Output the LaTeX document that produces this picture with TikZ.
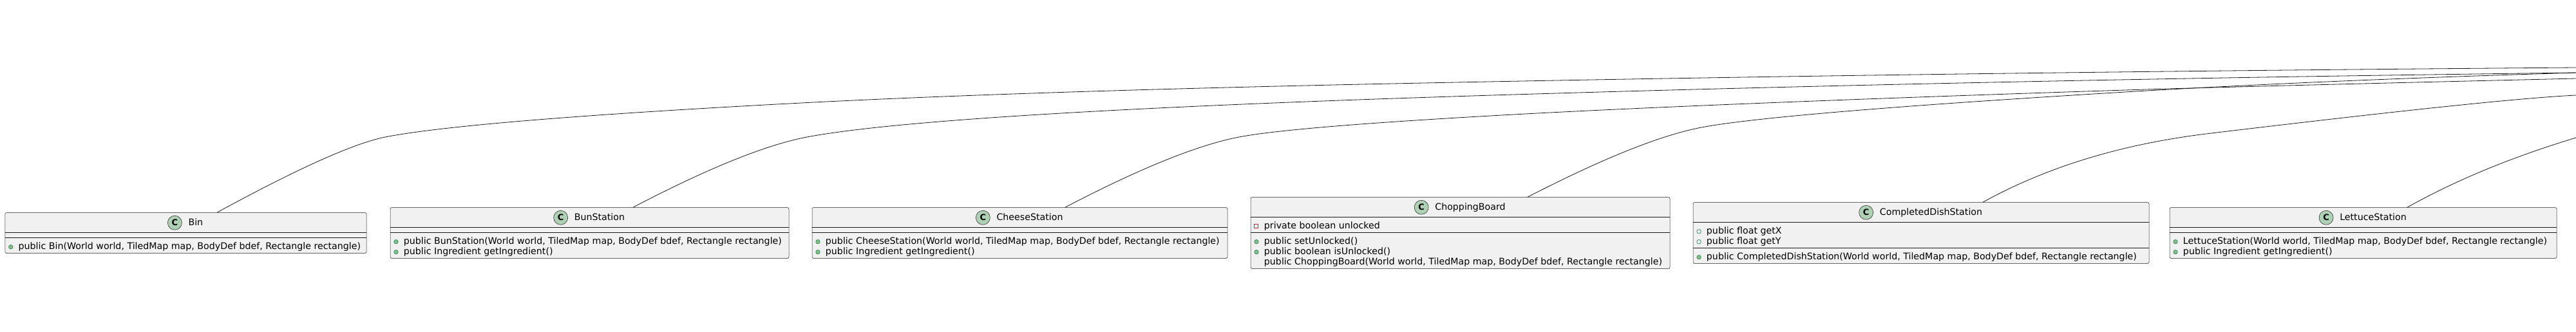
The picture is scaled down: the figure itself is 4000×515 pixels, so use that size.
\documentclass[tikz,border=0pt]{standalone}
\usepackage{fontspec}
\setmainfont{DejaVu Sans}
\usetikzlibrary{positioning}
\definecolor{boxfill}{HTML}{F1F1F1}
\definecolor{boxline}{HTML}{181818}
\definecolor{iconfill}{HTML}{ADD1B2}
\definecolor{pubfill}{HTML}{84BE84}
\definecolor{publine}{HTML}{038048}
\definecolor{privline}{HTML}{C82930}

\begin{document}
\begin{tikzpicture}[x=1pt,y=-1pt,
  classbox/.style={draw=boxline, fill=boxfill, line width=0.5pt, rounded corners=2.5pt, inner sep=0},
  sepline/.style={draw=boxline, line width=0.5pt},
  cname/.style={inner sep=0, font=\fontsize{14.2}{16}\selectfont, text height=10.5pt, text depth=3pt},
  cicon/.style={circle, draw=boxline, fill=iconfill, line width=0.5pt, minimum size=22pt, inner sep=0, outer sep=0, font=\fontsize{13}{13}\selectfont\bfseries},
  member/.style={inner sep=0, anchor=west, font=\fontsize{14.2}{16}\selectfont, text height=10.5pt, text depth=3pt},
  pubmeth/.style={circle, draw=publine, fill=pubfill, line width=0.5pt, minimum size=6.5pt, inner sep=0, outer sep=0},
  pubfield/.style={circle, draw=publine, line width=0.6pt, minimum size=6.5pt, inner sep=0, outer sep=0},
  privfield/.style={rectangle, draw=privline, line width=0.6pt, minimum size=6pt, inner sep=0, outer sep=0},
  inherit/.style={draw=boxline, line width=0.8pt}]

\useasboundingbox (0,0) rectangle (4000,515);

% Classes
\node[classbox, minimum width=561.3pt, minimum height=63pt] (bin) at (288.4,362) {};
\node[classbox, minimum width=619pt, minimum height=79pt] (bun) at (915.5,362) {};
\node[classbox, minimum width=645pt, minimum height=79pt] (cheese) at (1583.5,362) {};
\node[classbox, minimum width=651pt, minimum height=111pt] (chop) at (2267.5,362) {};
\node[classbox, minimum width=708pt, minimum height=95pt] (dish) at (2983,362) {};
\node[classbox, minimum width=601pt, minimum height=79pt] (lettuce) at (3669.5,362) {};

% Compartments
\foreach \c/\s in {bin/39, bun/39, cheese/39, chop/55, dish/71, lettuce/39} {
  \draw[sepline] ([yshift=-31pt]\c.north west) -- ([yshift=-31pt]\c.north east);
  \draw[sepline] ([yshift=-\s pt]\c.north west) -- ([yshift=-\s pt]\c.north east);
}

% Headers
\node[cname] (binN) at ([xshift=15.5pt,yshift=-16pt]bin.north) {Bin};
\node[cicon, left=10pt of binN] {C};
\node[cname] (bunN) at ([xshift=15.5pt,yshift=-16pt]bun.north) {BunStation};
\node[cicon, left=10pt of bunN] {C};
\node[cname] (cheeseN) at ([xshift=15.5pt,yshift=-16pt]cheese.north) {CheeseStation};
\node[cicon, left=10pt of cheeseN] {C};
\node[cname] (chopN) at ([xshift=15.5pt,yshift=-16pt]chop.north) {ChoppingBoard};
\node[cicon, left=10pt of chopN] {C};
\node[cname] (dishN) at ([xshift=15.5pt,yshift=-16pt]dish.north) {CompletedDishStation};
\node[cicon, left=10pt of dishN] {C};
\node[cname] (lettuceN) at ([xshift=15.5pt,yshift=-16pt]lettuce.north) {LettuceStation};
\node[cicon, left=10pt of lettuceN] {C};

% Members
\node[member] (binM1) at ([xshift=21pt,yshift=-53.5pt]bin.north west) {public Bin(World world, TiledMap map, BodyDef bdef, Rectangle rectangle)};
\node[pubmeth, left=8.5pt of binM1] {};

\node[member] (bunM1) at ([xshift=21pt,yshift=-53.5pt]bun.north west) {public BunStation(World world, TiledMap map, BodyDef bdef, Rectangle rectangle)};
\node[member] (bunM2) at ([xshift=21pt,yshift=-69.5pt]bun.north west) {public Ingredient getIngredient()};
\node[pubmeth, left=8.5pt of bunM1] {};
\node[pubmeth, left=8.5pt of bunM2] {};

\node[member] (cheeseM1) at ([xshift=21pt,yshift=-53.5pt]cheese.north west) {public CheeseStation(World world, TiledMap map, BodyDef bdef, Rectangle rectangle)};
\node[member] (cheeseM2) at ([xshift=21pt,yshift=-69.5pt]cheese.north west) {public Ingredient getIngredient()};
\node[pubmeth, left=8.5pt of cheeseM1] {};
\node[pubmeth, left=8.5pt of cheeseM2] {};

\node[member] (chopA1) at ([xshift=21pt,yshift=-45.5pt]chop.north west) {private boolean unlocked};
\node[member] (chopM1) at ([xshift=21pt,yshift=-69.5pt]chop.north west) {public setUnlocked()};
\node[member] (chopM2) at ([xshift=21pt,yshift=-85.5pt]chop.north west) {public boolean isUnlocked()};
\node[member] (chopM3) at ([xshift=21pt,yshift=-101.5pt]chop.north west) {public ChoppingBoard(World world, TiledMap map, BodyDef bdef, Rectangle rectangle)};
\node[privfield, left=9pt of chopA1] {};
\node[pubmeth, left=8.5pt of chopM1] {};
\node[pubmeth, left=8.5pt of chopM2] {};

\node[member] (dishA1) at ([xshift=21pt,yshift=-45.5pt]dish.north west) {public float getX};
\node[member] (dishA2) at ([xshift=21pt,yshift=-61.5pt]dish.north west) {public float getY};
\node[member] (dishM1) at ([xshift=21pt,yshift=-85.5pt]dish.north west) {public CompletedDishStation(World world, TiledMap map, BodyDef bdef, Rectangle rectangle)};
\node[pubfield, left=8.5pt of dishA1] {};
\node[pubfield, left=8.5pt of dishA2] {};
\node[pubmeth, left=8.5pt of dishM1] {};

\node[member] (lettuceM1) at ([xshift=21pt,yshift=-53.5pt]lettuce.north west) {LettuceStation(World world, TiledMap map, BodyDef bdef, Rectangle rectangle)};
\node[member] (lettuceM2) at ([xshift=21pt,yshift=-69.5pt]lettuce.north west) {public Ingredient getIngredient()};
\node[pubmeth, left=8.5pt of lettuceM1] {};
\node[pubmeth, left=8.5pt of lettuceM2] {};

% Inheritance lines (parent lies past the right edge)
\coordinate (binEnd) at (4000,105);
\coordinate (bunEnd) at (4000,113);
\coordinate (cheeseEnd) at (4000,122);
\coordinate (chopEnd) at (4000,113);
\coordinate (dishEnd) at (4000,148);
\coordinate (lettuceEnd) at (4000,214);

\draw[inherit] ([xshift=48.6pt]bin.north) .. controls (462,262) and (549,223) .. (598,213)
  .. controls (685,196) and (901,178) .. (1244,160)
  .. controls (1475,148) and (1781,138) .. (2162,130)
  .. controls (2740,118) and (3353,110) .. (binEnd);
\draw[inherit] ([xshift=67.5pt]bun.north) .. controls (1100,261) and (1190,225) .. (1253,213)
  .. controls (1391,187) and (1757,165) .. (2350,147)
  .. controls (2876,131) and (3426,120) .. (bunEnd);
\draw[inherit] ([xshift=70.5pt]cheese.north) .. controls (1771,261) and (1861,225) .. (1924,213)
  .. controls (1981,202) and (2123,190.5) .. (2350,178)
  .. controls (2551,167) and (2868,154) .. (3300,140)
  .. controls (3427,136) and (3660,130) .. (cheeseEnd);
\draw[inherit] ([xshift=104.5pt]chop.north) .. controls (2489,246) and (2579,210) .. (2642,198)
  .. controls (2721,183) and (2941,164.6) .. (3300,143)
  .. controls (3500,131) and (3733,121) .. (chopEnd);
\draw[inherit] ([xshift=96pt]dish.north) .. controls (3179,259) and (3297,223) .. (3434,207)
  .. controls (3726,172) and (3915,152) .. (dishEnd);
\draw[inherit] ([xshift=68.5pt]lettuce.north) .. controls (3816,278.5) and (3904,243) .. (lettuceEnd);

\end{tikzpicture}
\end{document}
